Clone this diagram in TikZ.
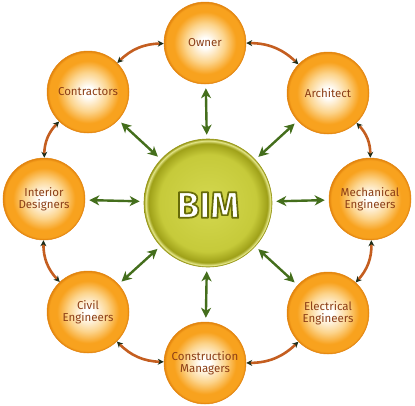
\documentclass[tikz,border=0pt]{standalone}
\usepackage{fontspec}
\setmainfont{Fira Sans}
\usetikzlibrary{arrows.meta}
\definecolor{orangemain}{RGB}{248,162,30}
\definecolor{orangedark}{RGB}{226,132,14}
\definecolor{orangelight}{RGB}{252,212,140}
\definecolor{labelbrown}{RGB}{140,62,22}
\definecolor{arcbrown}{RGB}{196,94,32}
\definecolor{tipdark}{RGB}{30,45,25}
\definecolor{greenarrow}{RGB}{68,110,28}
\definecolor{bimin}{RGB}{212,216,80}
\definecolor{bimmid}{RGB}{198,202,58}
\definecolor{bimrim}{RGB}{158,160,24}
\definecolor{bimhi}{RGB}{230,232,140}
\definecolor{bimedge}{RGB}{150,150,20}
\pgfdeclareradialshading{orangeball}{\pgfpoint{0bp}{0bp}}{color(0bp)=(white); color(3bp)=(white); color(12bp)=(orangelight); color(19bp)=(orangemain); color(23.5bp)=(orangemain); color(25bp)=(orangedark); color(50bp)=(orangedark)}
\pgfdeclareradialshading{bimball}{\pgfpoint{0bp}{0bp}}{color(0bp)=(bimin); color(19bp)=(bimmid); color(23.3bp)=(bimrim); color(24.4bp)=(bimhi); color(25bp)=(bimedge); color(50bp)=(bimedge)}
\tikzset{
  outer/.style={circle, minimum size=82pt, inner sep=0pt, shade, shading=orangeball,
    draw=orangedark, line width=0.5pt, text=labelbrown, align=center,
    font=\fontsize{11.5}{12}\selectfont},
  bimnode/.style={circle, minimum size=128pt, inner sep=0pt, shade, shading=bimball,
    draw=bimedge, line width=0.6pt},
  ringarc/.style={draw=arcbrown, line width=2.6pt,
    {Stealth[length=6pt,width=6pt,color=tipdark]}-{Stealth[length=6pt,width=6pt,color=tipdark]}},
  linkarrow/.style={draw=greenarrow, line width=2.4pt, shorten <=4pt, shorten >=4pt,
    {Stealth[length=10pt,width=10pt,inset=3pt]}-{Stealth[length=10pt,width=10pt,inset=3pt]}}
}
\newcommand{\outlinedtext}[1]{{\color{white}\special{pdf:literal direct 0.40 0.42 0.03 RG 1.7 w 1 j 2 Tr}#1\special{pdf:literal direct 0 Tr}}}
\begin{document}
\begin{tikzpicture}[x=1pt,y=-1pt]
\useasboundingbox (0,0) rectangle (415,405);
\node[bimnode] (bim) at (208,203) {};
\node (bimlabel) at (208,205) {\fontsize{37}{37}\selectfont\bfseries\outlinedtext{BIM}};
\node[outer] (owner) at (205,43) {Owner};
\node[outer] (architect) at (328,93) {Architect};
\node[outer] (mech) at (370,199) {Mechanical\\Engineers};
\node[outer] (elec) at (328,313) {Electrical\\Engineers};
\node[outer] (constr) at (205,363) {Construction\\Managers};
\node[outer] (civil) at (88,312) {Civil\\Engineers};
\node[outer] (interior) at (44,199) {Interior\\Designers};
\node[outer] (contractors) at (88,92) {Contractors};
\draw[ringarc] (owner) to[bend right=22] (contractors);
\draw[ringarc] (contractors) to[bend right=22] (interior);
\draw[ringarc] (interior) to[bend right=22] (civil);
\draw[ringarc] (civil) to[bend right=22] (constr);
\draw[ringarc] (constr) to[bend right=22] (elec);
\draw[ringarc] (elec) to[bend right=22] (mech);
\draw[ringarc] (mech) to[bend right=22] (architect);
\draw[ringarc] (architect) to[bend right=22] (owner);
\foreach \n in {owner,architect,mech,elec,constr,civil,interior,contractors}
  \draw[linkarrow] (bim) -- (\n);
\end{tikzpicture}
\end{document}
